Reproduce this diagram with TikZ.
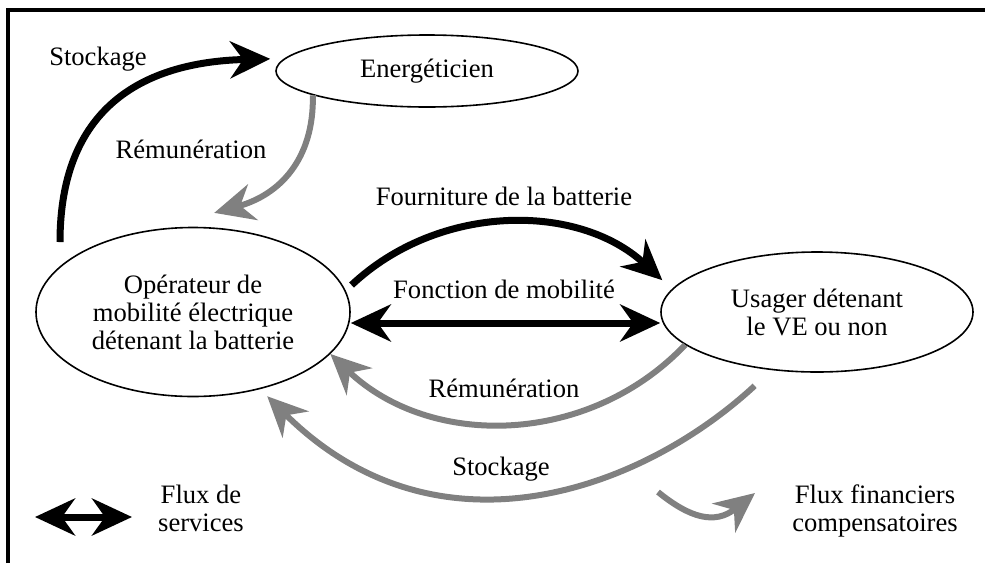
\documentclass[tikz,border=0pt]{standalone}
\usepackage{fontspec}
\setmainfont{Liberation Serif}
\usetikzlibrary{arrows.meta,shapes.geometric,positioning}
\definecolor{flowgray}{HTML}{808080}

\begin{document}
\begin{tikzpicture}[
  x=0.5pt, y=-0.5pt,
  font=\fontsize{13.3}{14}\selectfont,
  >={Stealth[length=20pt, width=18.5pt, inset=6.5pt]},
  actor/.style={ellipse, draw=black, line width=0.8pt, inner sep=0pt,
                align=center},
  service/.style={->, draw=black, line width=3.5pt},
  finance/.style={->, draw=flowgray, line width=3pt},
  lbl/.style={anchor=base, inner sep=0pt},
]
\useasboundingbox (0,0) rectangle (985,563);

% Frame
\draw[line width=2pt] (7.5,563) -- (7.5,10) -- (985,10);

% Actors
\node[actor, minimum width=151pt, minimum height=36pt] (en) at (427,71) {Energéticien};
\node[actor, minimum width=157pt, minimum height=84.5pt] (op) at (193,312)
  {Opérateur de\\mobilité électrique\\détenant la batterie};
\node[actor, minimum width=156pt, minimum height=60pt] (us) at (817,312)
  {Usager détenant\\le VE ou non};

% Service flows
\coordinate (stk) at (60,242);
\draw[service, shorten >=7pt] (stk) .. controls (60,110) and (140,62) .. (en.175);
\draw[service, shorten <=4pt, shorten >=6.5pt] (op.8) to[bend left=43] (us.171);
\draw[service, <->] ([yshift=-5.5pt]op.east) -- ([yshift=-5.5pt]us.west);

% Financial flows
\draw[finance, shorten >=11pt] (en.192) .. controls (314,160) and (279,195)
  .. ([yshift=4pt]op.north);
\draw[finance] (us.194) to[bend left=45] (op.343);
\draw[finance, shorten <=11.5pt, shorten >=5pt] (us.232)
  .. controls (641,491) and (437,565) .. (op.311);

% Labels
\node[lbl] (lstk1) at (98,65) {Stockage};
\node[lbl] (lrem1) at (191,158) {Rémunération};
\node[lbl] (lfour) at (504,205) {Fourniture de la batterie};
\node[lbl] (lfonc) at (504,298) {Fonction de mobilité};
\node[lbl] (lrem2) at (504,397) {Rémunération};
\node[lbl] (lstk2) at (501,475) {Stockage};

% Legend
\coordinate (svcA) at (35,517);
\coordinate (svcB) at (132,517);
\draw[service, <->] (svcA) -- (svcB);
\node[align=center] (lsvc) at (201,508) {Flux de\\services};

\coordinate (finA) at (658,492);
\coordinate (finB) at (755,493);
\draw[finance] (finA) .. controls (690,518) and (715,525) .. (finB);
\node[align=center] (lfin) at (875,511) {Flux financiers\\compensatoires};

\end{tikzpicture}
\end{document}
